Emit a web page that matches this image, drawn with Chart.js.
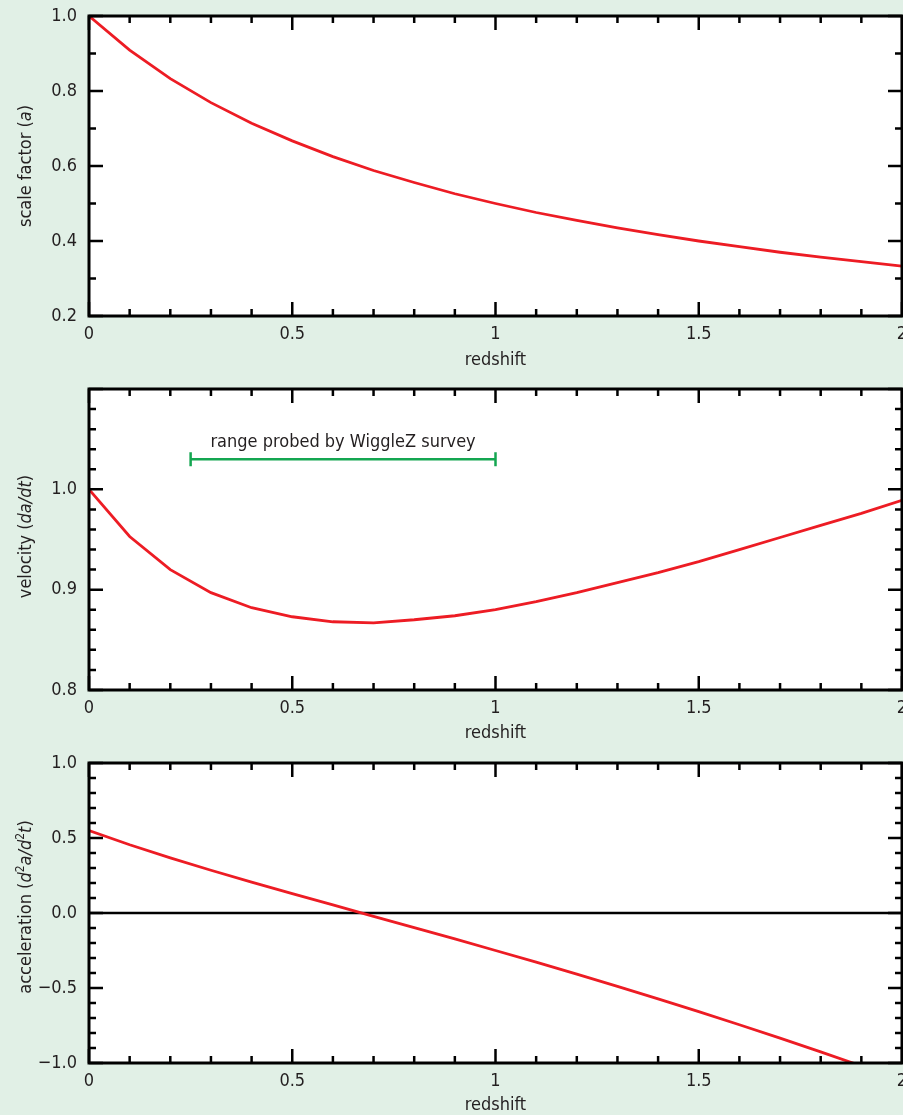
<!DOCTYPE html>
<html>
<head>
<meta charset="utf-8">
<script src="https://cdn.jsdelivr.net/npm/chart.js@4.4.0/dist/chart.umd.min.js"></script>
<style>
  html, body { margin: 0; padding: 0; width: 903px; height: 1115px; overflow: hidden; background: #e1f0e6; }
  .panel { position: absolute; left: 0; width: 940px; }
</style>
</head>
<body>
<div class="panel" style="top:0;height:372px"><canvas id="scaleChart" width="940" height="372"></canvas></div>
<div class="panel" style="top:372px;height:374px"><canvas id="velocityChart" width="940" height="374"></canvas></div>
<div class="panel" style="top:746px;height:370px"><canvas id="accelChart" width="940" height="370"></canvas></div>
<script>
// data
const redshift = [0, 0.1, 0.2, 0.3, 0.4, 0.5, 0.6, 0.7, 0.8, 0.9, 1.0,
  1.1, 1.2, 1.3, 1.4, 1.5, 1.6, 1.7, 1.8, 1.9, 2.0];
const scaleFactor = [1.000, 0.909, 0.833, 0.769, 0.714, 0.667, 0.625, 0.588, 0.556, 0.526, 0.500,
  0.476, 0.455, 0.435, 0.417, 0.400, 0.385, 0.370, 0.357, 0.345, 0.333];
const velocity = [1.000, 0.953, 0.920, 0.897, 0.882, 0.873, 0.868, 0.867, 0.870, 0.874, 0.880,
  0.888, 0.897, 0.907, 0.917, 0.928, 0.940, 0.952, 0.964, 0.976, 0.989];
const acceleration = [0.550, 0.455, 0.367, 0.285, 0.206, 0.129, 0.054, -0.022, -0.097, -0.173, -0.250,
  -0.328, -0.408, -0.489, -0.572, -0.658, -0.745, -0.834, -0.926, -1.020, -1.117];

const wigglezRange = [0.25, 1.0];
const wigglezLevel = 1.03;
const wigglezText = 'range probed by WiggleZ survey';
const zeroLine = [0, 0];
const zeroLineX = [0, 2];

const xTicks = [0, 0.5, 1, 1.5, 2];
const xTickLabels = ['0', '0.5', '1', '1.5', '2'];
const scaleTicks = [0.2, 0.4, 0.6, 0.8, 1.0];
const scaleTickLabels = ['0.2', '0.4', '0.6', '0.8', '1.0'];
const velocityTicks = [0.8, 0.9, 1.0];
const velocityTickLabels = ['0.8', '0.9', '1.0'];
const accelTicks = [-1, -0.5, 0, 0.5, 1];
const accelTickLabels = ['\u22121.0', '\u22120.5', '0.0', '0.5', '1.0'];

const RED = '#ed1c24';
const GREEN = '#14a651';
const INK = '#231f20';
const FONT = "'DejaVu Sans Condensed', 'Liberation Sans Narrow', sans-serif";

Chart.defaults.font.family = FONT;
Chart.defaults.font.size = 18;
Chart.defaults.color = INK;

function pts(xs, ys) {
  return xs.map((x, i) => ({ x: x, y: ys[i] }));
}

// white plot box, inward ticks on all four sides, rotated y title
const frame = {
  id: 'frame',
  beforeDatasetsDraw(chart) {
    const { ctx, chartArea: a } = chart;
    ctx.save();
    ctx.fillStyle = '#fff';
    ctx.fillRect(a.left, a.top, a.right - a.left, a.bottom - a.top);
    ctx.restore();
  },
  afterDatasetsDraw(chart, args, o) {
    const { ctx, chartArea: a, scales: { x, y } } = chart;
    ctx.save();
    ctx.strokeStyle = '#000';
    ctx.lineWidth = 2.5;
    ctx.beginPath();
    const nx = Math.round((x.max - x.min) / o.xMinor);
    for (let i = 0; i <= nx; i++) {
      const px = x.getPixelForValue(x.min + i * o.xMinor);
      const len = i % o.xEvery === 0 ? 14 : 7;
      ctx.moveTo(px, a.bottom); ctx.lineTo(px, a.bottom - len);
      ctx.moveTo(px, a.top); ctx.lineTo(px, a.top + len);
    }
    const ny = Math.round((y.max - y.min) / o.yMinor);
    for (let i = 0; i <= ny; i++) {
      const py = y.getPixelForValue(y.min + i * o.yMinor);
      const len = i % o.yEvery === 0 ? 14 : 7;
      ctx.moveTo(a.left, py); ctx.lineTo(a.left + len, py);
      ctx.moveTo(a.right, py); ctx.lineTo(a.right - len, py);
    }
    ctx.stroke();
    ctx.lineWidth = 3;
    ctx.strokeRect(a.left, a.top, a.right - a.left, a.bottom - a.top);
    ctx.restore();
  },
  afterDraw(chart, args, o) {
    const { ctx, chartArea: a } = chart;
    const parts = o.title;
    ctx.save();
    ctx.fillStyle = INK;
    ctx.textBaseline = 'alphabetic';
    const fontOf = p => (p.it ? 'italic ' : '') + (p.sup ? '12px ' : '18px ') + FONT;
    let w = 0;
    parts.forEach(p => { ctx.font = fontOf(p); w += ctx.measureText(p.t).width; });
    ctx.translate(31, (a.top + a.bottom) / 2 + (o.shift || 0));
    ctx.rotate(-Math.PI / 2);
    let cx = -w / 2;
    parts.forEach(p => {
      ctx.font = fontOf(p);
      ctx.fillText(p.t, cx, p.sup ? -7 : 0);
      cx += ctx.measureText(p.t).width;
    });
    ctx.restore();
    // annotation text over the green bar
    if (o.note) {
      const { x, y } = chart.scales;
      ctx.save();
      ctx.fillStyle = INK;
      ctx.font = '18px ' + FONT;
      ctx.textAlign = 'center';
      ctx.textBaseline = 'alphabetic';
      const mx = x.getPixelForValue((o.note.from + o.note.to) / 2);
      ctx.fillText(o.note.text, mx, y.getPixelForValue(o.note.level) - 12);
      ctx.restore();
    }
  }
};

function makeChart(id, cfg) {
  const canvas = document.getElementById(id);
  const H = canvas.height;
  return new Chart(canvas, {
    type: 'line',
    data: { datasets: cfg.datasets },
    plugins: [frame],
    options: {
      responsive: false,
      animation: false,
      events: [],
      layout: { padding: { left: 0, top: cfg.top, right: 940 - 902, bottom: 0 } },
      plugins: {
        legend: { display: false },
        tooltip: { enabled: false },
        frame: cfg.frame
      },
      elements: { point: { radius: 0 }, line: { tension: 0 } },
      scales: {
        x: {
          type: 'linear', min: 0, max: 2,
          grid: { display: false, drawTicks: false },
          border: { display: false },
          afterBuildTicks: s => { s.ticks = xTicks.map(v => ({ value: v })); },
          afterFit: s => {
            s.height = H - cfg.bottom;
            s.paddingLeft = 0; s.paddingRight = 0;
          },
          ticks: {
            padding: 8, maxRotation: 0, autoSkip: false,
            callback: (v, i) => xTickLabels[i]
          },
          title: { display: true, text: 'redshift', padding: { top: 0, bottom: cfg.titlePad } }
        },
        y: {
          type: 'linear', min: cfg.yMin, max: cfg.yMax,
          grid: { display: false, drawTicks: false },
          border: { display: false },
          afterBuildTicks: s => { s.ticks = cfg.yTicks.map(v => ({ value: v })); },
          afterFit: s => {
            s.width = 89;
            s.paddingTop = 0; s.paddingBottom = 0;
          },
          ticks: {
            padding: 12, autoSkip: false,
            callback: (v, i) => cfg.yLabels[i]
          }
        }
      }
    }
  });
}

const redLine = data => ({
  data: data, borderColor: RED, borderWidth: 2.8, fill: false
});

makeChart('scaleChart', {
  top: 16, bottom: 316, titlePad: 1,
  yMin: 0.2, yMax: 1.0, yTicks: scaleTicks, yLabels: scaleTickLabels,
  datasets: [redLine(pts(redshift, scaleFactor))],
  frame: {
    xMinor: 0.1, xEvery: 5, yMinor: 0.1, yEvery: 2,
    title: [{ t: 'scale factor (' }, { t: 'a', it: true }, { t: ')' }]
  }
});

makeChart('velocityChart', {
  top: 17, bottom: 318, titlePad: 2,
  yMin: 0.8, yMax: 1.1, yTicks: velocityTicks, yLabels: velocityTickLabels,
  datasets: [
    redLine(pts(redshift, velocity)),
    {
      data: pts(wigglezRange, [wigglezLevel, wigglezLevel]),
      borderColor: GREEN, borderWidth: 2.5,
      pointStyle: 'line', rotation: 90, pointRadius: 7,
      pointBorderColor: GREEN, pointBorderWidth: 2.5
    }
  ],
  frame: {
    xMinor: 0.1, xEvery: 5, yMinor: 0.02, yEvery: 5,
    title: [{ t: 'velocity (' }, { t: 'da/dt', it: true }, { t: ')' }],
    shift: -3,
    note: { text: wigglezText, from: wigglezRange[0], to: wigglezRange[1], level: wigglezLevel }
  }
});

makeChart('accelChart', {
  top: 17, bottom: 317, titlePad: 0,
  yMin: -1, yMax: 1, yTicks: accelTicks, yLabels: accelTickLabels,
  datasets: [
    redLine(pts(redshift, acceleration)),
    { data: pts(zeroLineX, zeroLine), borderColor: '#000', borderWidth: 2.5 }
  ],
  frame: {
    xMinor: 0.1, xEvery: 5, yMinor: 0.1, yEvery: 5,
    shift: -6,
    title: [
      { t: 'acceleration (' }, { t: 'd', it: true }, { t: '2', sup: true },
      { t: 'a/d', it: true }, { t: '2', sup: true }, { t: 't', it: true }, { t: ')' }
    ]
  }
});
</script>
</body>
</html>
